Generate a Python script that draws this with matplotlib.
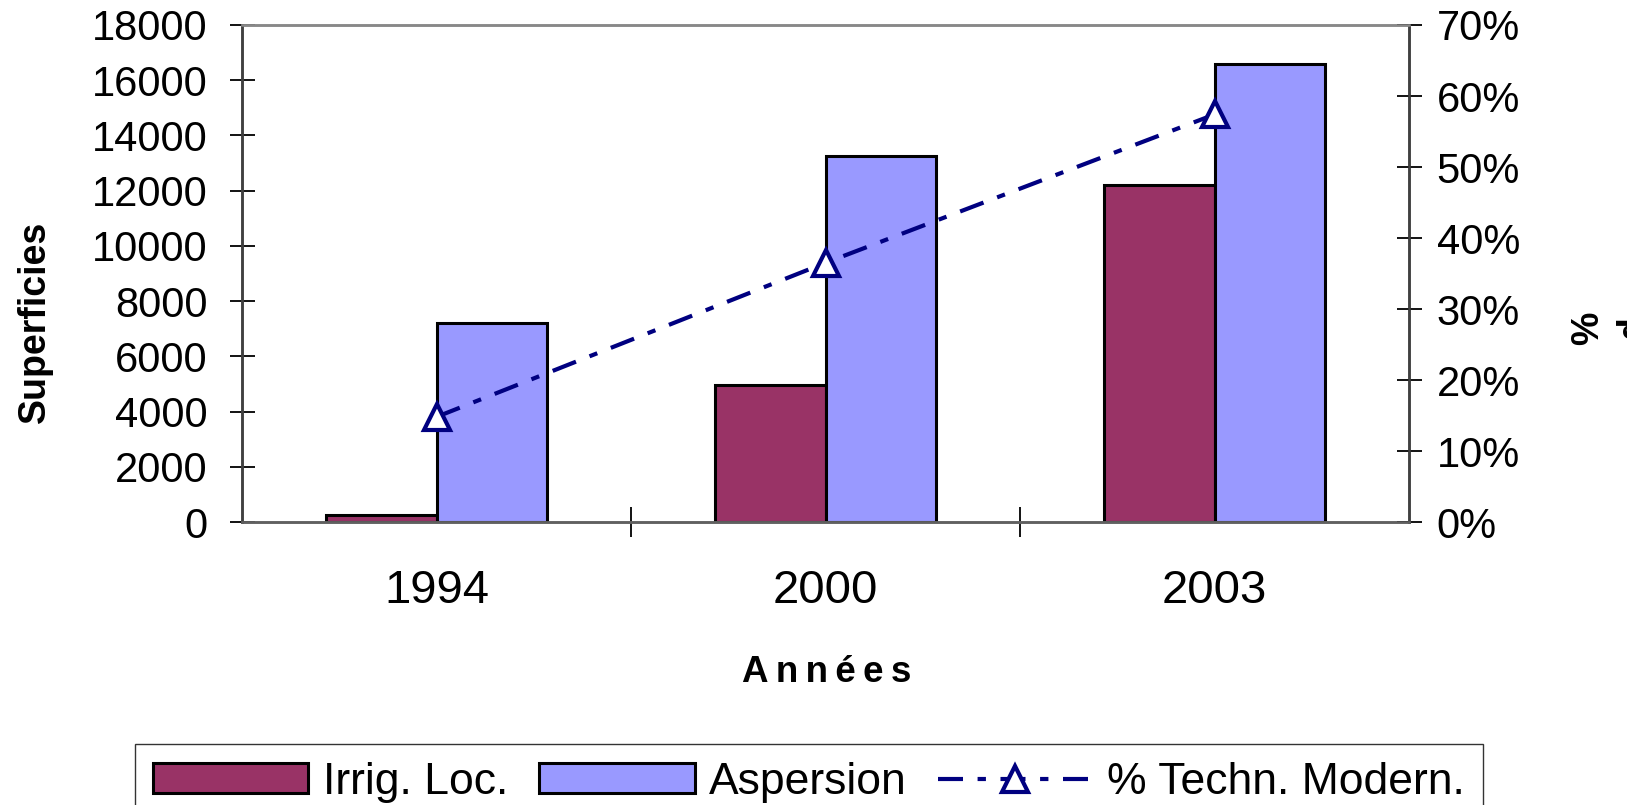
import matplotlib
matplotlib.use("Agg")
import matplotlib.pyplot as plt
import numpy as np
from matplotlib.ticker import FuncFormatter, FixedLocator

plt.rcParams['font.family'] = ['Liberation Sans', 'DejaVu Sans']

# -----------------------
# Data
# -----------------------
years = ["1994", "2000", "2003"]
irrig_loc = [250, 4950, 12200]
aspersion = [7200, 13250, 16600]
pct_modern = [0.148, 0.365, 0.574]

RED = "#993366"
BLUE = "#9999FF"
NAVY = "#000080"

W, H = 1627, 805
fig = plt.figure(figsize=(W / 100, H / 100), dpi=100)
ax = fig.add_axes([242 / W, 1 - 522 / H, (1409 - 242) / W, (522 - 25) / H])
ax2 = ax.twinx()

x = np.arange(len(years))
bw = 0.285
b1 = ax.bar(x - bw / 2, irrig_loc, width=bw, color=RED, edgecolor="black",
            linewidth=2.2, label="Irrig. Loc.", zorder=2)
b2 = ax.bar(x + bw / 2, aspersion, width=bw, color=BLUE, edgecolor="black",
            linewidth=2.2, label="Aspersion", zorder=2)

ln, = ax2.plot(x, pct_modern, color=NAVY, linewidth=3, linestyle=(0, (6, 3.5, 2, 3.5)),
               marker="^", markersize=19, markerfacecolor="white",
               markeredgecolor=NAVY, markeredgewidth=3, label="% Techn. Modern.")

# left axis
ax.set_xlim(-0.5, 2.5)
ax.set_ylim(0, 18000)
ax.set_yticks(np.arange(0, 18001, 2000))
ax.tick_params(axis="y", direction="inout", length=18, width=1.3, labelsize=30, pad=16)

# x axis: labels at centers, tick marks between categories
ax.set_xticks(x)
ax.set_xticklabels(years)
ax.xaxis.set_minor_locator(FixedLocator([0.5, 1.5]))
ax.tick_params(axis="x", which="major", length=0, labelsize=34, pad=34)
ax.tick_params(axis="x", which="minor", direction="inout", length=21, width=1.3)

# right axis
ax2.set_ylim(0, 0.7)
ax2.set_yticks(np.arange(0, 0.71, 0.1))
ax2.yaxis.set_major_formatter(FuncFormatter(lambda v, p: f"{v * 100:.0f}%"))
ax2.tick_params(axis="y", direction="inout", length=18, width=1.3, labelsize=30, pad=11)

for a in (ax, ax2):
    a.spines["left"].set_color("#404040")
    a.spines["bottom"].set_color("#606060")
    a.spines["right"].set_color("#404040")
    a.spines["top"].set_color("#888888")
    for s in a.spines.values():
        s.set_linewidth(1.8)
ax2.set_zorder(ax.get_zorder() + 1)
ax2.patch.set_visible(False)

# axis titles
fig.text(35 / W, 1 - 322 / H, "Superficies", rotation=90, ha="center", va="center",
         fontsize=27, fontweight="bold")
fig.text(827 / W, 1 - 682 / H, "A\u2009n\u2009n\u2009é\u2009e\u2009s", ha="center", va="baseline",
         fontsize=26.5, fontweight="bold")
fig.text(1611 / W, 1 - 328 / H, "%\nd", rotation=90, ha="center", va="center",
         fontsize=27, fontweight="bold", linespacing=1.35, multialignment="center")

# legend (partly cut at the bottom, as in the original)
leg = fig.legend([b1, b2, ln], ["Irrig. Loc.", "Aspersion", "% Techn. Modern."],
                 loc="upper left", bbox_to_anchor=(135 / W, 1 - 744 / H), ncol=3,
                 fontsize=32, frameon=True, fancybox=False, handlelength=3.5,
                 handleheight=0.64, handletextpad=0.32, columnspacing=0.7,
                 borderpad=0.4, borderaxespad=0, numpoints=1)
leg.get_frame().set_edgecolor("black")
leg.get_frame().set_linewidth(1.0)

fig.savefig("out.png", dpi=100)
